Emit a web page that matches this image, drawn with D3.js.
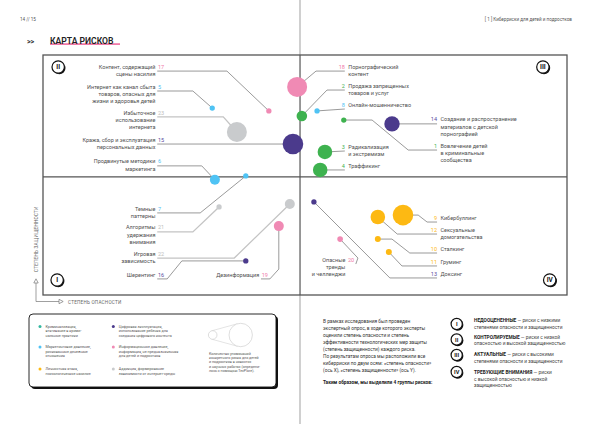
<!DOCTYPE html>
<html>
<head>
<meta charset="utf-8">
<script src="https://cdn.jsdelivr.net/npm/d3@7"></script>
<style>
  body { margin: 0; background: #fff; }
  svg { display: block; font-family: Roboto, "Noto Sans", sans-serif; }
</style>
</head>
<body>
<svg id="chart" width="600" height="424"></svg>
<script>
// --- данные карты рисков ---
const riskIds = [17, 5, 23, 15, 6, 7, 21, 22, 16, 19, 18, 2, 8, 14, 1, 3, 4, 9, 12, 10, 11, 13, 20];
const riskNames = [
  ["Контент, содержащий", "сцены насилия"],
  ["Интернет как канал сбыта", "товаров, опасных для", "жизни и здоровья детей"],
  ["Избыточное", "использование", "интернета"],
  ["Кража, сбор и эксплуатация", "персональных данных"],
  ["Продвинутые методики", "маркетинга"],
  ["Темные", "паттерны"],
  ["Алгоритмы", "удержания", "внимания"],
  ["Игровая", "зависимость"],
  ["Шерентинг"],
  ["Дезинформация"],
  ["Порнографический", "контент"],
  ["Продажа запрещенных", "товаров и услуг"],
  ["Онлайн-мошенничество"],
  ["Создание и распространение", "материалов с детской", "порнографией"],
  ["Вовлечение детей", "в криминальные", "сообщества"],
  ["Радикализация", "и экстремизм"],
  ["Траффикинг"],
  ["Кибербуллинг"],
  ["Сексуальные", "домогательства"],
  ["Сталкинг"],
  ["Груминг"],
  ["Доксинг"],
  ["Опасные", "тренды", "и челленджи"]
];
const riskGroups = ["info", "market", "addict", "exploit", "market", "market", "addict", "addict", "exploit", "info",
  "info", "crime", "market", "exploit", "crime", "crime", "crime", "attack", "attack", "attack", "attack", "exploit", "info"];
// степень опасности (X) и степень защищенности (Y), условная шкала 0–100
const dangerScores = [43.1, 32.3, 37.0, 47.7, 32.8, 38.7, 33.6, 47.1, 38.7, 45.0, 48.5, 49.4, 52.3, 66.6, 57.4, 53.8, 52.9, 68.7, 63.9, 63.9, 66.0, 51.7, 56.7];
const protectionScores = [76.7, 77.9, 67.9, 62.9, 48.0, 49.6, 36.7, 37.9, 14.2, 28.7, 86.7, 74.6, 76.7, 71.3, 72.9, 59.6, 52.1, 33.3, 32.5, 23.3, 17.9, 38.8, 23.3];
// количество упоминаний (размер круга)
const mentions = [7, 7, 100, 106, 25, 7, 7, 25, 7, 25, 100, 28, 7, 59, 7, 53, 53, 106, 53, 9, 9, 7, 8];

const dangerMid = 49.05;
const protectionMid = 49.2;

const groupKeys = ["crime", "exploit", "market", "info", "attack", "addict"];
const groupNames = [
  ["Криминализация,", "втягивание в крими-", "нальные практики"],
  ["Цифровая эксплуатация,", "использование ребенка для", "создания цифрового контента"],
  ["Маркетинговое давление,", "рискованные денежные", "отношения"],
  ["Информационное давление,", "информация, не предназначенная", "для детей и подростков"],
  ["Личностная атака,", "психологическое насилие"],
  ["Аддикция, формирование", "зависимости от интернет-среды"]
];

const quadrantNames = ["I", "II", "III", "IV"];
const quadrantTitles = ["НЕДООЦЕНЕННЫЕ", "КОНТРОЛИРУЕМЫЕ", "АКТУАЛЬНЫЕ", "ТРЕБУЮЩИЕ ВНИМАНИЯ"];
const quadrantTexts = [
  ["— риски с низкими", "степенями опасности и защищенности"],
  ["— риски с низкой", "опасностью и высокой защищенностью"],
  ["— риски с высокими", "степенями опасности и защищенности"],
  ["— риски", "с высокой опасностью и низкой", "защищенностью"]
];

const introLines = [
  "В рамках исследования был проведен",
  "экспертный опрос, в ходе которого эксперты",
  "оценили степень опасности и степень",
  "эффективности технологических мер защиты",
  "(степень защищенности) каждого риска.",
  "По результатам опроса мы расположили все",
  "киберриски по двум осям: «степень опасности»",
  "(ось X), «степень защищенности» (ось Y)."
];
const sizeNote = ["Количество упоминаний", "конкретного риска для детей", "и подростков в новостях",
  "и научных работах (определи-", "лось с помощью TexPlore)."];

// раскладка подписей (в единицах шкал): точка у номера и изломы выноски
const labelLayout = [
  { id: 17, side: "L", at: [21.8, 93.3], bends: [[35.1, 93.3]] },
  { id: 5, side: "L", at: [21.8, 85.0], bends: [[28.6, 85.0]] },
  { id: 23, side: "L", at: [21.8, 74.2], bends: [[34.4, 74.2]] },
  { id: 15, side: "L", at: [21.8, 62.9], bends: [] },
  { id: 6, side: "L", at: [21.8, 53.8], bends: [[30.3, 53.8]] },
  { id: 7, side: "L", at: [21.8, 34.2], bends: [[30.0, 34.2]] },
  { id: 21, side: "L", at: [21.8, 26.3], bends: [[28.6, 26.3]] },
  { id: 22, side: "L", at: [21.8, 15.4], bends: [[36.5, 15.4]] },
  { id: 16, side: "L", at: [21.8, 6.7], bends: [[23.7, 6.7], [26.5, 14.2]] },
  { id: 19, side: "L", at: [41.6, 6.7], bends: [[43.3, 6.7], [45.0, 10.8]] },
  { id: 18, side: "R", at: [57.6, 93.3], bends: [[52.1, 93.3]] },
  { id: 2, side: "R", at: [57.6, 85.4], bends: [[54.2, 85.4]] },
  { id: 8, side: "R", at: [57.6, 77.5], bends: [] },
  { id: 14, side: "R", at: [75.2, 71.3], bends: [] },
  { id: 1, side: "R", at: [75.2, 60.4], bends: [[69.7, 60.4], [62.8, 72.9]] },
  { id: 3, side: "R", at: [57.6, 60.0], bends: [] },
  { id: 4, side: "R", at: [57.6, 52.1], bends: [] },
  { id: 9, side: "R", at: [75.2, 30.4], bends: [[73.3, 30.4], [71.6, 33.3]] },
  { id: 12, side: "R", at: [75.2, 25.4], bends: [[67.6, 25.4]] },
  { id: 10, side: "R", at: [75.2, 17.5], bends: [[70.0, 17.5], [66.6, 23.3]] },
  { id: 11, side: "R", at: [75.2, 12.1], bends: [[68.5, 12.1]] },
  { id: 13, side: "R", at: [75.2, 7.1], bends: [[66.2, 7.1]] },
  { id: 20, side: "L", at: [59.7, 12.9], bends: [[60.1, 15.4]], numX: 58.2 }
];

const colors = d3.scaleOrdinal()
  .domain(groupKeys)
  .range(["#3eb24f", "#4b3a8c", "#4fc3f4", "#f08ab4", "#fdb913", "#c9cbcd"]);
const numColors = d3.scaleOrdinal()
  .domain(groupKeys)
  .range(["#3eb24f", "#5a4aa0", "#4fc3f4", "#f07aa8", "#fdb913", "#bdbdbd"]);
const legendDot = d3.scaleOrdinal()
  .domain(groupKeys)
  .range(["#33b8a0", "#4b3a8c", "#4fc3f4", "#f08ab4", "#fdb913", "#c9cbcd"]);

const svg = d3.select("#chart");
const ink = "#4f4f4f";

// корешок разворота
svg.append("line")
  .attr("x1", 300).attr("x2", 300).attr("y1", 0).attr("y2", 424)
  .attr("stroke", "#c4c4c4").attr("stroke-width", 1.6);

// шапка
svg.append("text").attr("x", 20).attr("y", 21)
  .attr("font-size", 4.6).attr("fill", "#555").text("14 // 15");
svg.append("text").attr("x", 572).attr("y", 21).attr("text-anchor", "end")
  .attr("font-size", 4.6).attr("fill", "#555")
  .text("[ 1 ]   Киберриски для детей и подростков");

svg.append("text").attr("x", 27).attr("y", 44)
  .attr("font-size", 7).attr("font-weight", 700).attr("fill", "#333").text(">>");
const title = svg.append("g");
title.append("rect").attr("x", 50).attr("y", 43.2).attr("width", 70).attr("height", 1.8).attr("fill", "#f07aa8");
title.append("text").attr("x", 50).attr("y", 44)
  .attr("font-size", 8.6).attr("font-weight", 600).attr("fill", "#222").text("КАРТА РИСКОВ");

// шкалы
const x = d3.scaleLinear().domain([0, 100]).range([43, 567]);
const y = d3.scaleLinear().domain([0, 100]).range([295, 55]);
const r = d3.scaleSqrt().domain([0, 100]).range([0, 10]);

const plot = svg.append("g");
plot.append("rect")
  .attr("x", x(0)).attr("y", y(100))
  .attr("width", x(100) - x(0)).attr("height", y(0) - y(100))
  .attr("fill", "#fff").attr("stroke", "#555").attr("stroke-width", 1.3);
plot.append("line")
  .attr("x1", x(dangerMid)).attr("x2", x(dangerMid)).attr("y1", y(100)).attr("y2", y(0))
  .attr("stroke", "#555").attr("stroke-width", 1.2);
plot.append("line")
  .attr("x1", x(0)).attr("x2", x(100)).attr("y1", y(protectionMid)).attr("y2", y(protectionMid))
  .attr("stroke", "#555").attr("stroke-width", 1.2);

// номер квадранта в кружке с тенью
function romanBadge(g, cx, cy, rad, label, fs) {
  g.append("circle").attr("cx", cx + 1.1).attr("cy", cy + 1.1).attr("r", rad).attr("fill", "#111");
  g.append("circle").attr("cx", cx).attr("cy", cy).attr("r", rad)
    .attr("fill", "#fff").attr("stroke", "#111").attr("stroke-width", 1.2);
  g.append("text").attr("x", cx).attr("y", cy + fs * 0.36).attr("text-anchor", "middle")
    .attr("font-size", fs).attr("font-weight", 700).attr("fill", "#111").text(label);
}
const badgePos = [[2.7, 6.25], [2.9, 95], [95.4, 95], [96.7, 6.25]];
quadrantNames.forEach((q, i) => romanBadge(plot, x(badgePos[i][0]), y(badgePos[i][1]), 6.2, q, 6.5));

// подписи осей
svg.append("text")
  .attr("transform", `translate(37.6,272) rotate(-90)`)
  .attr("font-size", 4.6).attr("letter-spacing", 0.25).attr("fill", "#666")
  .text("СТЕПЕНЬ ЗАЩИЩЕННОСТИ");
svg.append("text").attr("x", 68).attr("y", 303.6)
  .attr("font-size", 4.6).attr("letter-spacing", 0.25).attr("fill", "#666")
  .text("СТЕПЕНЬ ОПАСНОСТИ");
svg.append("path").attr("d", "M36,283 V301.5 H59")
  .attr("fill", "none").attr("stroke", "#777").attr("stroke-width", 0.7);
svg.append("path").attr("d", "M33.8,283 L36,278.8 L38.2,283 Z M59,299.3 L63.2,301.5 L59,303.7 Z")
  .attr("fill", "#fff").attr("stroke", "#777").attr("stroke-width", 0.7);

// сводим риски
const risks = riskIds.map((id, i) => ({
  id, name: riskNames[i], group: riskGroups[i],
  dx: dangerScores[i], py: protectionScores[i], n: mentions[i]
}));
const byId = new Map(risks.map(d => [d.id, d]));

// выноски
const line = d3.line().x(p => x(p[0])).y(p => y(p[1]));
plot.append("g").selectAll("path")
  .data(labelLayout)
  .join("path")
  .attr("d", l => {
    const d = byId.get(l.id);
    return line([l.at, ...l.bends, [d.dx, d.py]]);
  })
  .attr("fill", "none")
  .attr("stroke", l => byId.get(l.id).group === "addict" ? "#c4c4c4" : "#555")
  .attr("stroke-width", l => byId.get(l.id).group === "addict" ? 1.3 : 0.6);

// круги
plot.append("g").selectAll("circle")
  .data(risks)
  .join("circle")
  .attr("cx", d => x(d.dx))
  .attr("cy", d => y(d.py))
  .attr("r", d => r(d.n))
  .attr("fill", d => colors(d.group));

// подписи
const labels = plot.append("g").selectAll("g")
  .data(labelLayout)
  .join("g")
  .attr("font-size", 5.5);

labels.each(function (l) {
  const d = byId.get(l.id);
  const g = d3.select(this);
  const ax = x(l.at[0]);
  const base = y(l.at[1]) - 2.4;
  if (l.side === "L") {
    const nx = l.numX != null ? x(l.numX) : ax + 0.8;
    g.append("text").attr("x", nx).attr("y", base)
      .attr("fill", numColors(d.group)).text(d.id);
    d.name.forEach((t, k) => {
      g.append("text").attr("x", nx - 2.6).attr("y", base + k * 7.2)
        .attr("text-anchor", "end").attr("fill", ink).text(t);
    });
  } else {
    g.append("text").attr("x", ax).attr("y", base).attr("text-anchor", "end")
      .attr("fill", numColors(d.group)).text(d.id);
    d.name.forEach((t, k) => {
      g.append("text").attr("x", ax + 3.4).attr("y", base + k * 7.2)
        .attr("fill", ink).text(t);
    });
  }
});

// легенда
const legend = svg.append("g");
legend.append("rect").attr("x", 31).attr("y", 316).attr("width", 247).attr("height", 73)
  .attr("rx", 4).attr("fill", "#111");
legend.append("rect").attr("x", 29).attr("y", 314).attr("width", 247).attr("height", 73)
  .attr("rx", 4).attr("fill", "#fff").attr("stroke", "#111").attr("stroke-width", 0.9);

const legendCols = [40, 113.3];
const legendRows = [326.5, 347, 369];
groupKeys.forEach((k, i) => {
  const cx = legendCols[i % 2];
  const cy = legendRows[Math.floor(i / 2)];
  legend.append("circle").attr("cx", cx).attr("cy", cy).attr("r", 1.5).attr("fill", legendDot(k));
  groupNames[i].forEach((t, j) => {
    legend.append("text").attr("x", cx + 5.5).attr("y", cy + 1.3 + j * 4.4)
      .attr("font-size", 3.7).attr("fill", "#555").text(t);
  });
});

// значок размера
const c1 = [212.7, 335], c2 = [240.7, 335], r1 = 4.3, r2 = 11.7;
const dist = c2[0] - c1[0];
const th = Math.acos((r1 - r2) / dist);
legend.append("path")
  .attr("d", `M${c1[0] + r1 * Math.cos(th)},${c1[1] - r1 * Math.sin(th)} L${c2[0] + r2 * Math.cos(th)},${c2[1] - r2 * Math.sin(th)}
              M${c1[0] + r1 * Math.cos(th)},${c1[1] + r1 * Math.sin(th)} L${c2[0] + r2 * Math.cos(th)},${c2[1] + r2 * Math.sin(th)}`)
  .attr("stroke", "#c8c8c8").attr("stroke-width", 0.5).attr("fill", "none");
[[c1, r1], [c2, r2]].forEach(([c, rr]) => {
  legend.append("circle").attr("cx", c[0]).attr("cy", c[1]).attr("r", rr)
    .attr("fill", "#fff").attr("stroke", "#c8c8c8").attr("stroke-width", 0.6);
});
sizeNote.forEach((t, j) => {
  legend.append("text").attr("x", 209).attr("y", 354.5 + j * 4.4)
    .attr("font-size", 3.6).attr("fill", "#555").text(t);
});

// правая колонка: пояснения
const notes = svg.append("g").attr("fill", "#333");
introLines.forEach((t, j) => {
  notes.append("text").attr("x", 323).attr("y", 322.6 + j * 7)
    .attr("font-size", 4.8).text(t);
});
notes.append("text").attr("x", 323).attr("y", 384.4)
  .attr("font-size", 4.8).attr("font-weight", 700).attr("fill", "#222")
  .text("Таким образом, мы выделили 4 группы рисков:");

const noteY = [322.2, 338.6, 356.2, 374];
const badgeY = [324, 339.5, 355, 372];
quadrantNames.forEach((q, i) => {
  romanBadge(notes, 456.7, badgeY[i], 5.6, q, 5.6);
  const t = notes.append("text").attr("x", 474).attr("y", noteY[i]).attr("font-size", 4.8);
  t.append("tspan").attr("font-weight", 700).attr("fill", "#222").text(quadrantTitles[i] + " ");
  t.append("tspan").attr("fill", "#444").text(quadrantTexts[i][0]);
  quadrantTexts[i].slice(1).forEach((s, j) => {
    notes.append("text").attr("x", 474).attr("y", noteY[i] + (j + 1) * 6.5)
      .attr("font-size", 4.8).attr("fill", "#444").text(s);
  });
});
</script>
</body>
</html>
